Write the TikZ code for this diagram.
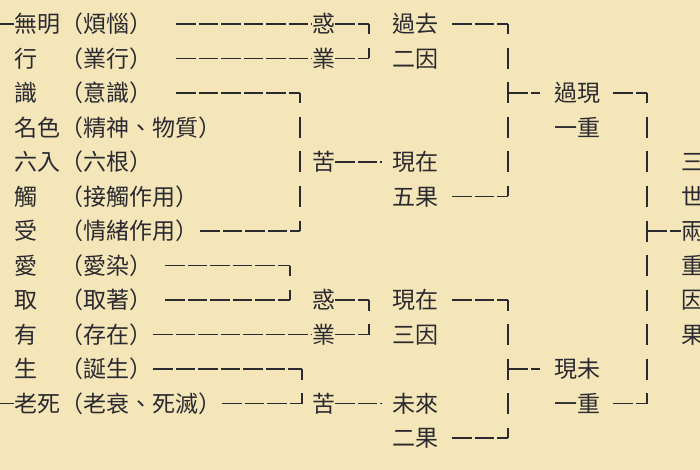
\documentclass[tikz,border=0pt]{standalone}
\usepackage{fontspec}
\newfontfamily\cjk{Noto Sans CJK TC}
\definecolor{bg}{HTML}{F4E6B8}
\definecolor{ink}{HTML}{2A2A30}
\begin{document}
\begin{tikzpicture}[x=1pt,y=-1pt,
  txt/.style={inner sep=0pt, anchor=west, font=\cjk\fontsize{23pt}{23pt}\selectfont,
    text=ink, text height=20.24pt, text depth=2.76pt},
  hl/.style={draw=ink, line width=1.8pt, dash pattern=on 19.5pt off 3pt},
  vl/.style={draw=ink, line width=1.8pt, dash pattern=on 21pt off 13.5pt, dash phase=10.5pt},
  sl/.style={draw=ink, line width=1.8pt}]
\useasboundingbox (0,0) rectangle (700,470);
\fill[bg] (0,0) rectangle (700,470);

% twelve links
\node[txt] (t1)  at (14,24)    {無明};  \node[txt] (p1)  at (60,24)    {（煩惱）};
\node[txt] (t2)  at (14,58.5)  {行};    \node[txt] (p2)  at (60,58.5)  {（業行）};
\node[txt] (t3)  at (14,93)    {識};    \node[txt] (p3)  at (60,93)    {（意識）};
\node[txt] (t4)  at (14,127.5) {名色};  \node[txt] (p4)  at (60,127.5) {（精神、物質）};
\node[txt] (t5)  at (14,162)   {六入};  \node[txt] (p5)  at (60,162)   {（六根）};
\node[txt] (t6)  at (14,196.5) {觸};    \node[txt] (p6)  at (60,196.5) {（接觸作用）};
\node[txt] (t7)  at (14,231)   {受};    \node[txt] (p7)  at (60,231)   {（情緒作用）};
\node[txt] (t8)  at (14,265.5) {愛};    \node[txt] (p8)  at (60,265.5) {（愛染）};
\node[txt] (t9)  at (14,300)   {取};    \node[txt] (p9)  at (60,300)   {（取著）};
\node[txt] (t10) at (14,334.5) {有};    \node[txt] (p10) at (60,334.5) {（存在）};
\node[txt] (t11) at (14,369)   {生};    \node[txt] (p11) at (60,369)   {（誕生）};
\node[txt] (t12) at (14,403.5) {老死};  \node[txt] (p12) at (60,403.5) {（老衰、死滅）};

% 惑 業 苦
\node[txt] (k1) at (312,24)    {惑};
\node[txt] (k2) at (312,58.5)  {業};
\node[txt] (k3) at (312,162)   {苦};
\node[txt] (k4) at (312,300)   {惑};
\node[txt] (k5) at (312,334.5) {業};
\node[txt] (k6) at (312,403.5) {苦};

% periods
\node[txt] (a1) at (392,24)    {過去};
\node[txt] (a2) at (392,58.5)  {二因};
\node[txt] (a3) at (392,162)   {現在};
\node[txt] (a4) at (392,196.5) {五果};
\node[txt] (a5) at (392,300)   {現在};
\node[txt] (a6) at (392,334.5) {三因};
\node[txt] (a7) at (392,403.5) {未來};
\node[txt] (a8) at (392,438)   {二果};

\node[txt] (b1) at (554,93)    {過現};
\node[txt] (b2) at (554,127.5) {一重};
\node[txt] (b3) at (554,369)   {現未};
\node[txt] (b4) at (554,403.5) {一重};

\node[txt] (c1) at (681,162)   {三};
\node[txt] (c2) at (681,196.5) {世};
\node[txt] (c3) at (681,231)   {兩};
\node[txt] (c4) at (681,265.5) {重};
\node[txt] (c5) at (681,300)   {因};
\node[txt] (c6) at (681,334.5) {果};

% coordinates
\coordinate (l1) at (0,24);
\coordinate (l12) at (0,403.5);
\coordinate (s1) at (176,24);
\coordinate (s2) at (176,58.5);
\coordinate (s3) at (176,93);
\coordinate (s7) at (200,231);
\coordinate (s8) at (165,265.5);
\coordinate (s9) at (165,300);
\coordinate (s10) at (153,334.5);
\coordinate (s11) at (153,369);
\coordinate (s12) at (222,403.5);
\coordinate (q1) at (369,24);
\coordinate (q2) at (369,58.5);
\coordinate (q9) at (369,300);
\coordinate (q10) at (369,334.5);
\coordinate (m3) at (300,93);
\coordinate (m7) at (300,231);
\coordinate (n8) at (290,265.5);
\coordinate (n9) at (290,300);
\coordinate (n11) at (302,369);
\coordinate (n12) at (302,403.5);
\coordinate (e3) at (382,162);
\coordinate (e6) at (382,403.5);
\coordinate (u1) at (452,24);
\coordinate (u6) at (452,196.5);
\coordinate (u9) at (452,300);
\coordinate (u13) at (452,438);
\coordinate (v1) at (508,24);
\coordinate (v3) at (508,93);
\coordinate (v6) at (508,196.5);
\coordinate (v9) at (508,300);
\coordinate (v11) at (508,369);
\coordinate (v13) at (508,438);
\coordinate (w3) at (540,93);
\coordinate (w11) at (540,369);
\coordinate (g3) at (613,93);
\coordinate (g12) at (613,403.5);
\coordinate (h3) at (647,93);
\coordinate (h7) at (647,231);
\coordinate (h12) at (647,403.5);

% left edge stubs
\draw[sl] (l1) -- (t1.west);
\draw[sl] (l12) -- (t12.west);

% 惑 業 (past)
\draw[hl] (s1) -- (k1.west);
\draw[hl] (s2) -- (k2.west);
\draw[hl] (k1.east) -- (q1);
\draw[hl] (k2.east) -- (q2);
\draw[vl] (q1) -- (q2);

% 苦 (present)
\draw[hl] (s3) -- (m3);
\draw[hl] (s7) -- (m7);
\draw[vl] (m3) -- (m7);
\draw[hl] (k3.east) -- (e3);

% 惑 (present)
\draw[hl] (s8) -- (n8);
\draw[hl] (s9) -- (n9);
\draw[vl] (n8) -- (n9);
\draw[hl] (k4.east) -- (q9);
% 業 (present)
\draw[hl] (s10) -- (k5.west);
\draw[hl] (k5.east) -- (q10);
\draw[vl] (q9) -- (q10);

% 苦 (future)
\draw[hl] (s11) -- (n11);
\draw[hl] (s12) -- (n12);
\draw[vl] (n11) -- (n12);
\draw[hl] (k6.east) -- (e6);

% upper right bracket
\draw[hl] (u1) -- (v1);
\draw[hl] (u6) -- (v6);
\draw[vl] (v1) -- (v6);
\draw[hl] (v3) -- (w3);

% lower right bracket
\draw[hl] (u9) -- (v9);
\draw[hl] (u13) -- (v13);
\draw[vl] (v9) -- (v13);
\draw[hl] (v11) -- (w11);

% outer bracket
\draw[hl] (g3) -- (h3);
\draw[hl] (g12) -- (h12);
\draw[vl] (h3) -- (h12);
\draw[hl] (h7) -- (c3.west);
\end{tikzpicture}
\end{document}
